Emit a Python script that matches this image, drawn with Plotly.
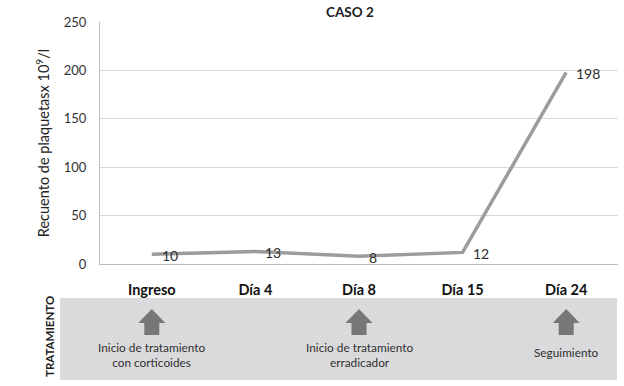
import plotly.graph_objects as go

categories = ["Ingreso", "Día 4", "Día 8", "Día 15", "Día 24"]
platelets = [10, 13, 8, 12, 198]
y_ticks = [0, 50, 100, 150, 200, 250]
treatment_positions = [0, 2, 4]
treatment_texts = ["Inicio de tratamiento<br>con corticoides",
                   "Inicio de tratamiento<br>erradicador",
                   "Seguimiento"]

FONT = "Lato"
W, H = 624, 386
ML, MR, MT, MB = 100, 6, 22, 122
ph = H - MT - MB
pw = W - ML - MR

def py(pix):
    return (H - MB - pix) / ph

def px(pix):
    return (pix - ML) / pw

fig = go.Figure()
fig.add_trace(go.Scatter(
    x=categories, y=platelets, mode="lines",
    line=dict(color="#9c9c9c", width=3.5),
    hoverinfo="skip", showlegend=False,
))

annotations = []
for cat, val in zip(categories, platelets):
    annotations.append(dict(x=cat, y=val, xref="x", yref="y", text=str(val),
                            showarrow=False, xanchor="left", yanchor="middle",
                            xshift=8, yshift=-1,
                            font=dict(family=FONT, size=14, color="#303030")))

shapes = [dict(type="rect", xref="paper", yref="paper",
               x0=px(60), x1=px(617), y0=py(380), y1=py(298),
               fillcolor="#dadadc", line=dict(width=0), layer="below")]
arrow_path = "M -7.5,0 L 7.5,0 L 7.5,12 L 13.5,12 L 0,26 L -13.5,12 L -7.5,12 Z"
for pos, txt in zip(treatment_positions, treatment_texts):
    shapes.append(dict(type="path", xref="x", yref="paper",
                       xsizemode="pixel", ysizemode="pixel",
                       xanchor=pos, yanchor=py(335), path=arrow_path,
                       fillcolor="#777777", line=dict(width=0)))
    annotations.append(dict(x=pos, xref="x", y=py(355 if "<br>" in txt else 352), yref="paper",
                            text=txt, showarrow=False, xanchor="center", yanchor="middle",
                            font=dict(family=FONT, size=11.8, color="#303030")))

annotations.append(dict(x=px(49), xref="paper", y=py(337), yref="paper",
                        text="<b>TRATAMIENTO</b>", showarrow=False, textangle=-90,
                        xanchor="center", yanchor="middle",
                        font=dict(family=FONT, size=11.5, color="#202020")))
annotations.append(dict(x=px(350), xref="paper", y=py(12), yref="paper",
                        text="<b>CASO 2</b>", showarrow=False, xanchor="center", yanchor="middle",
                        font=dict(family=FONT, size=13.5, color="#202020")))

fig.update_layout(
    width=W, height=H, margin=dict(l=ML, r=MR, t=MT, b=MB),
    paper_bgcolor="white", plot_bgcolor="white",
    shapes=shapes, annotations=annotations,
    xaxis=dict(type="category", range=[-0.5, 4.5], showgrid=False,
               showline=True, linecolor="#bdbdbd", linewidth=1,
               ticks="", ticklabelstandoff=13,
               tickfont=dict(family=FONT, size=14.5, color="#111111", weight="bold")),
    yaxis=dict(range=[0, 250], tickvals=y_ticks, showgrid=True, gridcolor="#d9d9d9",
               showline=True, linecolor="#bdbdbd", zeroline=False,
               ticks="", ticklabelstandoff=10,
               tickfont=dict(family=FONT, size=13, color="#333333"),
               title=dict(text="Recuento de plaquetasx 10<sup>9</sup>/l", standoff=10,
                          font=dict(family=FONT, size=14.5, color="#222222"))),
)
fig.write_html("out.html", config={"displayModeBar": False},
               post_script="document.body.style.margin='0';document.body.style.overflow='hidden';")
